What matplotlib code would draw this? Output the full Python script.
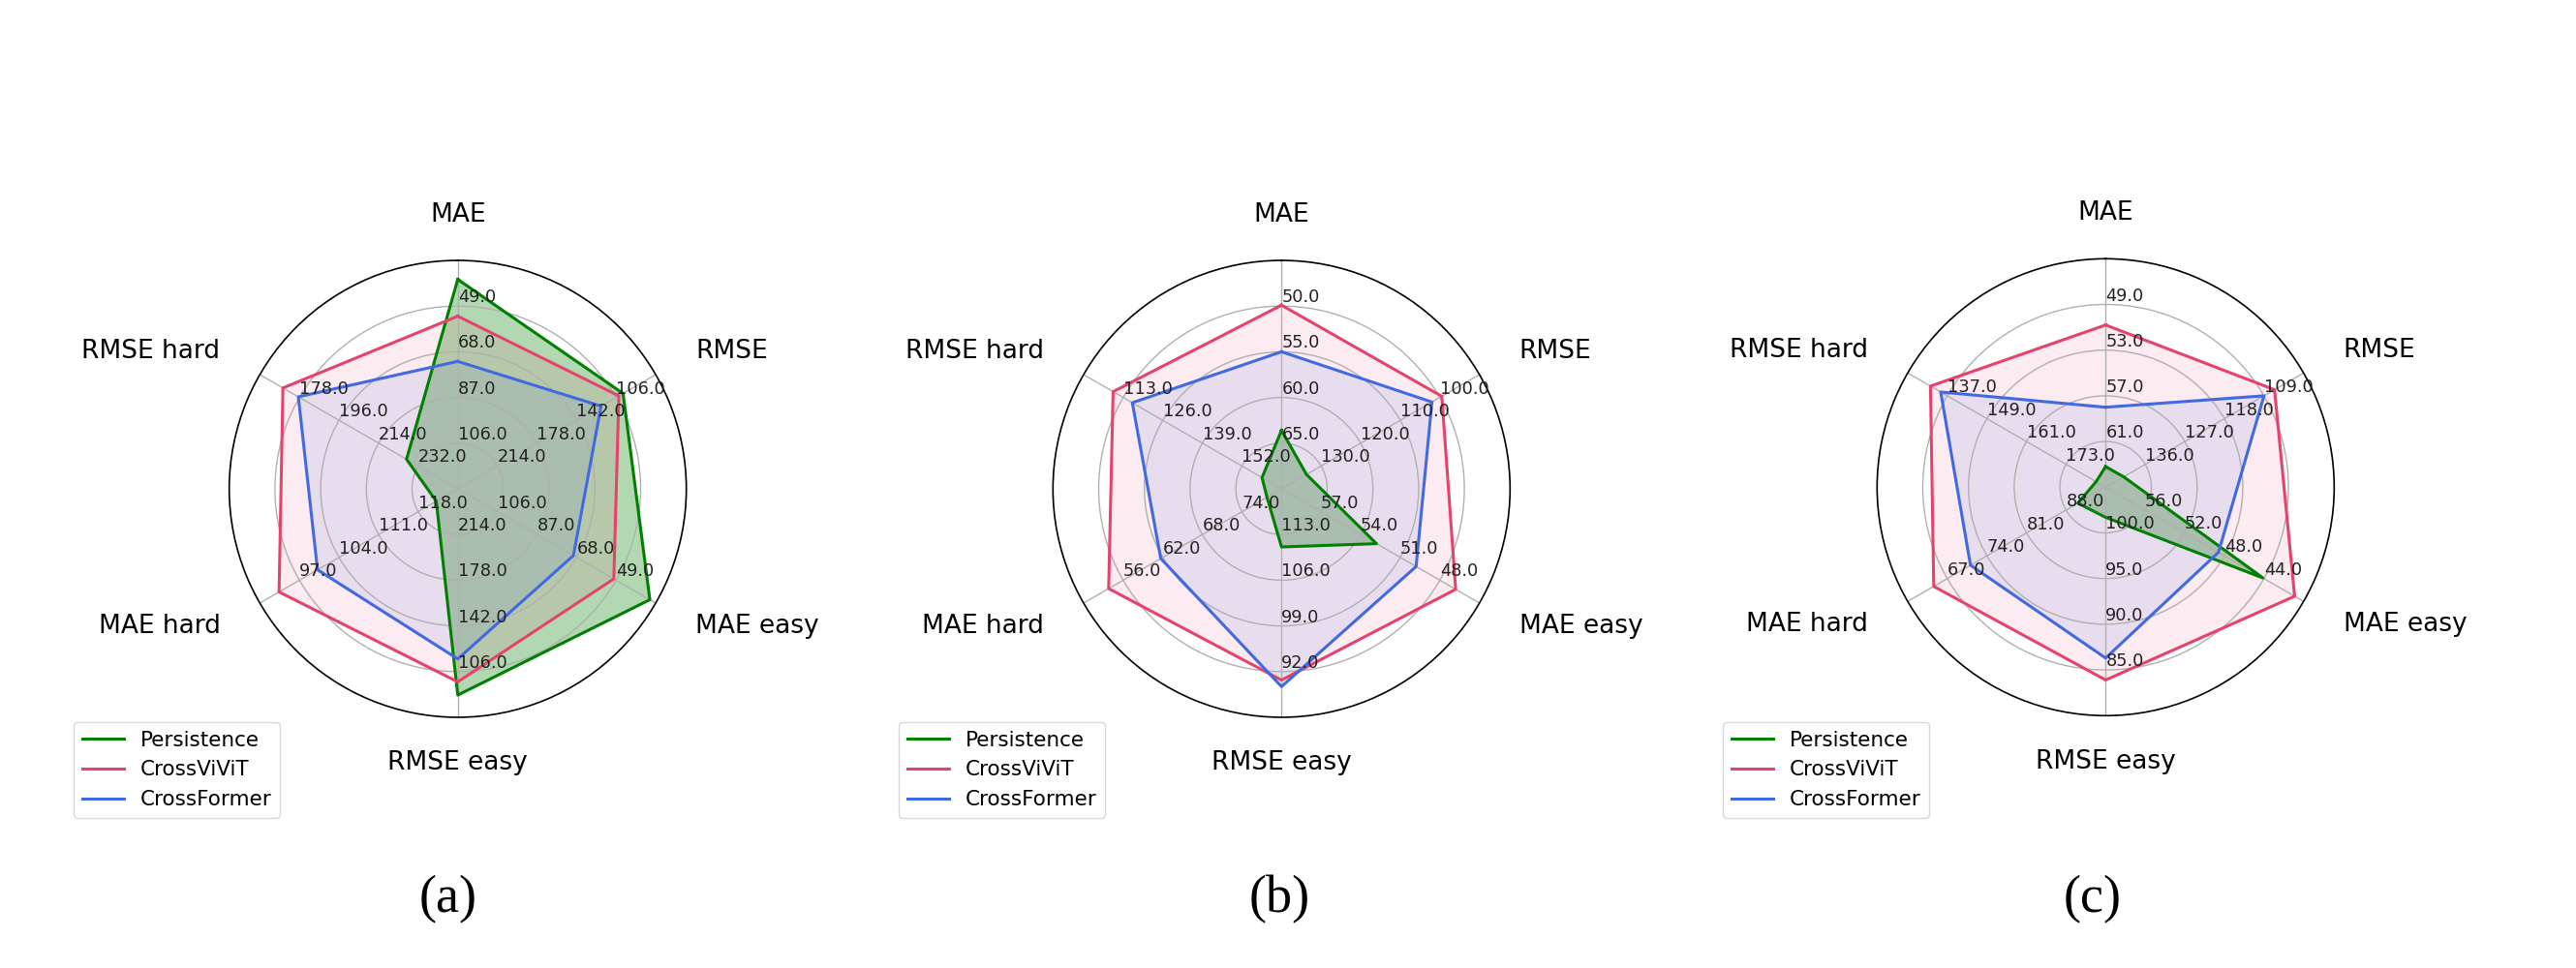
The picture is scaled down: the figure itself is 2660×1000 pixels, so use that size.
import numpy as np
import matplotlib
matplotlib.use("Agg")
import matplotlib.pyplot as plt

categories = ["MAE", "RMSE", "MAE easy", "RMSE easy", "MAE hard", "RMSE hard"]
models = ["Persistence", "CrossViViT", "CrossFormer"]
captions = ["(a)", "(b)", "(c)"]

# values at the centre (worst) and at the rim (best) of each spoke, per panel
inner_a = [125, 250, 125, 250, 125, 250]
outer_a = [30, 70, 30, 70, 90, 160]
inner_b = [70, 140, 60, 120, 80, 165]
outer_b = [45, 90, 45, 85, 50, 100]
inner_c = [65, 145, 60, 105, 95, 185]
outer_c = [45, 100, 40, 80, 60, 125]

persistence_a = [37.9, 99.7, 32.8, 87.5, 121.2, 226.7]
crossvivit_a = [53.2, 103.5, 50.1, 97.9, 93.4, 170.5]
crossformer_a = [72.0, 119.7, 69.5, 116.0, 100.2, 177.5]

persistence_b = [63.6, 133.7, 52.8, 111.1, 77.8, 158.6]
crossvivit_b = [49.9, 99.5, 46.8, 90.7, 53.8, 109.7]
crossformer_b = [55.0, 102.0, 49.8, 89.7, 61.7, 116.0]

persistence_c = [63.2, 140.9, 44.1, 101.7, 90.1, 182.1]
crossvivit_c = [50.8, 106.6, 40.9, 83.9, 64.6, 131.9]
crossformer_c = [58.0, 109.0, 48.6, 86.3, 71.1, 135.0]

panels = [
    (inner_a, outer_a, [persistence_a, crossvivit_a, crossformer_a]),
    (inner_b, outer_b, [persistence_b, crossvivit_b, crossformer_b]),
    (inner_c, outer_c, [persistence_c, crossvivit_c, crossformer_c]),
]

colors = ["green", "#e5436c", "#4169e1"]
fill_alpha = [0.3, 0.1, 0.1]
levels = [0.2, 0.4, 0.6, 0.8]

W, H = 2660, 1000
fig = plt.figure(figsize=(26.6, 10), dpi=100)

# panel centres and radius in pixels
centres = [(472.7, 505), (1323.3, 505), (2174.3, 503.3)]
rad = 236
legend_x = [76, 928, 1779]
caption_x = [463, 1321, 2161]

theta = np.linspace(0, 2 * np.pi, len(categories), endpoint=False)

for k, (inner, outer, series) in enumerate(panels):
    cx, cy = centres[k]
    rect = [(cx - rad) / W, (H - cy - rad) / H, 2 * rad / W, 2 * rad / H]
    ax = fig.add_axes(rect, polar=True)
    ax.set_theta_offset(np.pi / 2)
    ax.set_theta_direction(-1)
    ax.set_ylim(0, 1)
    ax.set_rgrids(levels, labels=[])
    ax.set_thetagrids(np.degrees(theta), labels=[])
    ax.grid(color="#b0b0b0", linewidth=1.0)
    ax.spines["polar"].set_color("black")
    ax.spines["polar"].set_linewidth(1.2)

    inner = np.array(inner, dtype=float)
    outer = np.array(outer, dtype=float)

    for vals, name, col, fa in zip(series, models, colors, fill_alpha):
        r = (inner - np.array(vals)) / (inner - outer)
        th = np.append(theta, theta[0])
        rr = np.append(r, r[0])
        ax.plot(th, rr, color=col, linewidth=2.2, label=name)
        ax.fill(th, rr, color=col, alpha=fa)

    # per-spoke scale labels
    for i, t in enumerate(theta):
        for lv in levels:
            v = inner[i] - (inner[i] - outer[i]) * lv
            ax.text(t, lv, "{:.1f}".format(round(v)), ha="left", va="bottom",
                    fontsize=12.8, color="#222222")

    # category labels
    for i, t in enumerate(theta):
        s = np.sin(t)
        if abs(s) < 1e-6:
            ha = "center"
        elif s > 0:
            ha = "left"
        else:
            ha = "right"
        ax.text(t, 1.2, categories[i], ha=ha, va="center", fontsize=19)

    ax.legend(loc="upper left", bbox_to_anchor=(legend_x[k] / W, 1 - 746 / H),
              bbox_transform=fig.transFigure, borderaxespad=0, fontsize=15.5)

    fig.text(caption_x[k] / W, 1 - 929 / H, captions[k], ha="center", va="center",
             fontsize=39, family="Liberation Serif")

fig.savefig("out.png", dpi=100)
